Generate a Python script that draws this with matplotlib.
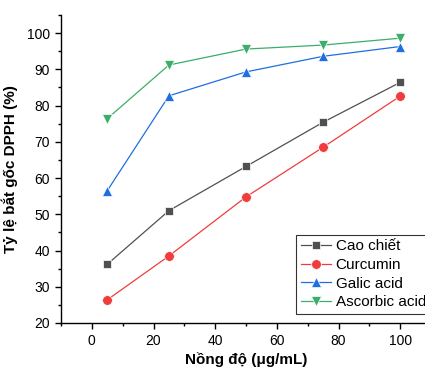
import matplotlib.pyplot as plt
from matplotlib.ticker import MultipleLocator

plt.rcParams["font.family"] = ["Liberation Sans", "DejaVu Sans"]

conc = [5, 25, 50, 75, 100]
cao_chiet = [36.2, 51.0, 63.2, 75.4, 86.4]
curcumin = [26.4, 38.5, 54.8, 68.5, 82.6]
galic_acid = [56.5, 82.7, 89.3, 93.6, 96.3]
ascorbic_acid = [76.4, 91.2, 95.6, 96.7, 98.6]

fig = plt.figure(figsize=(4.25, 3.72), dpi=100)
# axes extends past the right edge, like the cropped original
ax = fig.add_axes([61 / 425, 49 / 372, 370 / 425, 308 / 372])

series = [
    (cao_chiet, "Cao chiết", "#505050", "s", 6),
    (curcumin, "Curcumin", "#f03c3c", "o", 7),
    (galic_acid, "Galic acid", "#1e6fe0", "^", 7.5),
    (ascorbic_acid, "Ascorbic acid", "#3aae6a", "v", 7.5),
]
for vals, name, col, mk, ms in series:
    ax.plot(conc, vals, color=col, lw=0.9, marker=mk, ms=ms,
            markeredgecolor="white", markeredgewidth=0.5, label=name)

ax.set_xlim(-10, 110)
ax.set_ylim(20, 105)
ax.xaxis.set_major_locator(MultipleLocator(20))
ax.xaxis.set_minor_locator(MultipleLocator(10))
ax.yaxis.set_major_locator(MultipleLocator(10))
ax.yaxis.set_minor_locator(MultipleLocator(5))
ax.tick_params(which="major", direction="out", length=4, width=1,
               labelsize=10, pad=4)
ax.tick_params(which="minor", direction="out", length=2.5, width=1)
ax.spines["top"].set_visible(False)
ax.spines["right"].set_visible(False)
ax.spines["left"].set_linewidth(1)
ax.spines["bottom"].set_linewidth(1)

ax.set_xlabel("Nồng độ (μg/mL)", fontsize=11, fontweight="bold", labelpad=3)
ax.set_ylabel("Tỷ lệ bắt gốc DPPH (%)", fontsize=11, fontweight="bold",
              labelpad=6)

# legend box runs off the right edge as in the original; text stays inside
leg = ax.legend(loc="lower left", bbox_to_anchor=(0.635, 0.03), fontsize=11,
                frameon=True, fancybox=False, edgecolor="black",
                handlelength=2.0, borderpad=0.3, labelspacing=0.3,
                handletextpad=0.3, borderaxespad=0)
leg.get_frame().set_linewidth(0.8)

fig.savefig("out.png", dpi=100)
